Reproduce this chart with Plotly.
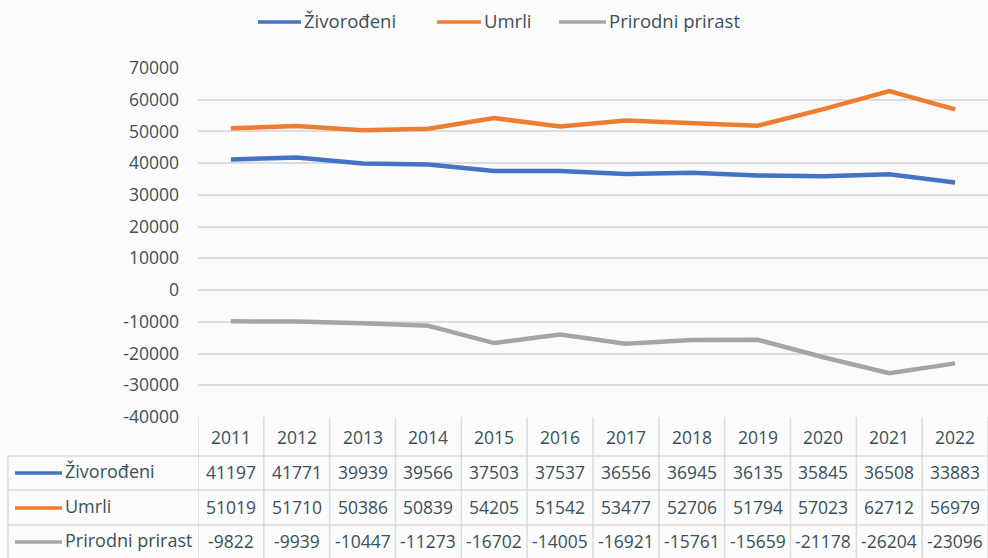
import plotly.graph_objects as go

years = [2011, 2012, 2013, 2014, 2015, 2016, 2017, 2018, 2019, 2020, 2021, 2022]
zivorodjeni = [41197, 41771, 39939, 39566, 37503, 37537, 36556, 36945, 36135, 35845, 36508, 33883]
umrli = [51019, 51710, 50386, 50839, 54205, 51542, 53477, 52706, 51794, 57023, 62712, 56979]
prirast = [-9822, -9939, -10447, -11273, -16702, -14005, -16921, -15761, -15659, -21178, -26204, -23096]
series_names = ["Živorođeni", "Umrli", "Prirodni prirast"]
y_ticks = [70000, 60000, 50000, 40000, 30000, 20000, 10000, 0, -10000, -20000, -30000, -40000]
y_tick_labels = [str(v) for v in y_ticks]
colors = ["#4472C4", "#ED7D31", "#A5A5A5"]
series = [zivorodjeni, umrli, prirast]

W, H = 988, 558
TEXT = "#3a5158"
GRID = "#d8dee1"
FONT = "Open Sans"

def py(p):
    return 1 - p / H

def px(p):
    return p / W

fig = go.Figure()
for name, vals, c in zip(series_names, series, colors):
    fig.add_trace(go.Scatter(x=years, y=vals, mode="lines", name=name,
                             line=dict(color=c, width=4.5), showlegend=False,
                             hoverinfo="x+y+name"))

shapes = []
annotations = []

# Legend (top)
legend_items = [(258, 301), (437, 481), (559, 606)]
for (x0, x1), name, c in zip(legend_items, series_names, colors):
    shapes.append(dict(type="line", xref="paper", yref="paper", x0=px(x0), x1=px(x1),
                       y0=py(22), y1=py(22), line=dict(color=c, width=3.5)))
    annotations.append(dict(xref="paper", yref="paper", x=px(x1 + 1), y=py(21),
                            text=name, showarrow=False, xanchor="left", yanchor="middle",
                            font=dict(family=FONT, size=18.5, color=TEXT)))

# Data table grid
row_tops = [417, 456, 490, 525]
for yr in years + [years[-1] + 1]:
    shapes.append(dict(type="line", xref="x", yref="paper", x0=yr - 0.5, x1=yr - 0.5,
                       y0=py(417), y1=py(560), line=dict(color=GRID, width=1.5)))
for yb in row_tops[1:]:
    shapes.append(dict(type="line", xref="paper", yref="paper", x0=px(8), x1=1,
                       y0=py(yb), y1=py(yb), line=dict(color=GRID, width=1.5)))
shapes.append(dict(type="line", xref="paper", yref="paper", x0=px(8), x1=px(8),
                   y0=py(456), y1=py(560), line=dict(color=GRID, width=1.5)))

# Header years
for yr in years:
    annotations.append(dict(xref="x", yref="paper", x=yr, y=py(437), text=str(yr),
                            showarrow=False, xanchor="center", yanchor="middle",
                            font=dict(family=FONT, size=17.5, color=TEXT)))

row_centers = [472, 507, 541]
for rc, name, vals, c in zip(row_centers, series_names, series, colors):
    shapes.append(dict(type="line", xref="paper", yref="paper", x0=px(15), x1=px(62),
                       y0=py(rc + 1), y1=py(rc + 1), line=dict(color=c, width=3.5)))
    annotations.append(dict(xref="paper", yref="paper", x=px(63), y=py(rc - 1),
                            text=name, showarrow=False, xanchor="left", yanchor="middle",
                            font=dict(family=FONT, size=18, color=TEXT)))
    for yr, v in zip(years, vals):
        annotations.append(dict(xref="x", yref="paper", x=yr, y=py(rc), text=str(v),
                                showarrow=False, xanchor="center", yanchor="middle",
                                font=dict(family=FONT, size=17.5, color=TEXT)))

fig.update_layout(
    width=W, height=H,
    margin=dict(l=0, r=0, t=0, b=0, autoexpand=False),
    paper_bgcolor="#fbfbfb",
    plot_bgcolor="#fbfbfb",
    shapes=shapes,
    annotations=annotations,
    xaxis=dict(domain=[px(198), 1], range=[2010.5, 2022.5], showticklabels=False,
               showgrid=False, zeroline=False, showline=False, ticks="", automargin=False),
    yaxis=dict(domain=[py(417), py(68)], range=[-40000, 70000],
               tickmode="array", tickvals=y_ticks, ticktext=y_tick_labels,
               showgrid=True, gridcolor=GRID, gridwidth=1.5, automargin=False,
               zeroline=False, showline=False, ticks="", ticklabelstandoff=18,
               tickfont=dict(family=FONT, size=17.5, color=TEXT)),
)

post = ("document.body.style.margin='0';"
        "var d=document.getElementById('{plot_id}');"
        "d.style.position='fixed';d.style.left='0px';d.style.top='0px';")
fig.write_html("out.html", post_script=post, config={"displayModeBar": False})
